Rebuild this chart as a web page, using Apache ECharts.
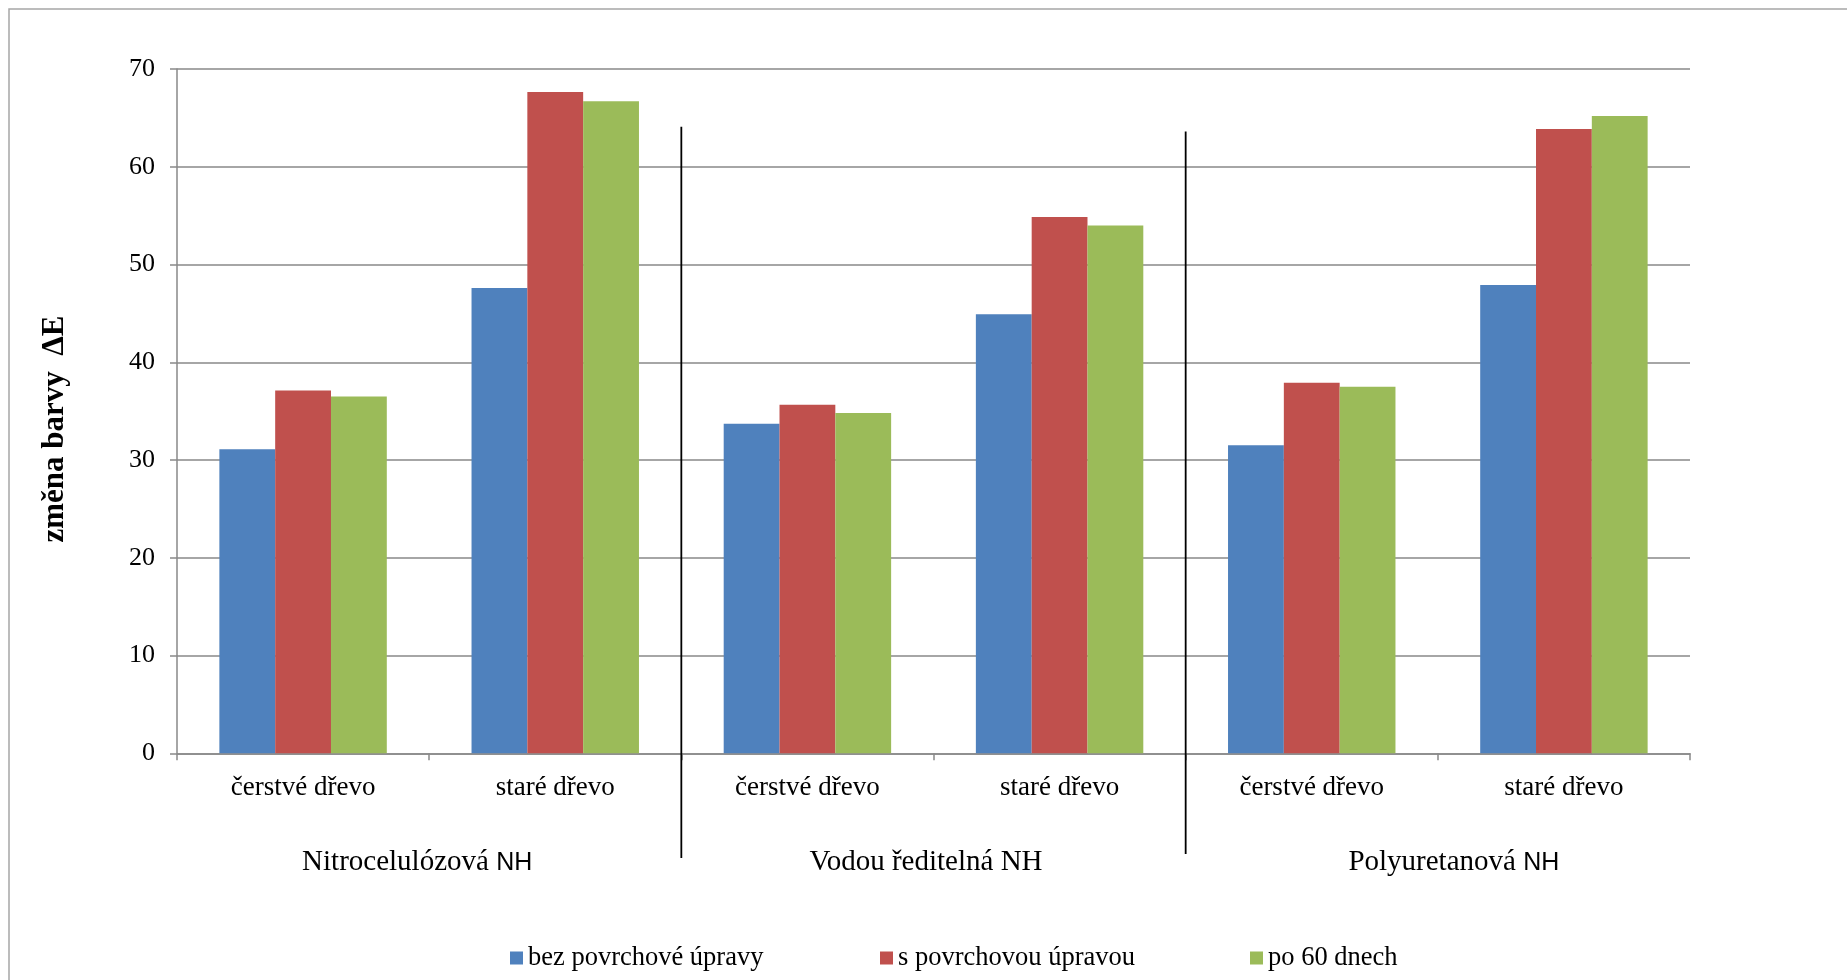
<!DOCTYPE html>
<html>
<head>
<meta charset="utf-8">
<style>
  html, body { margin: 0; padding: 0; background: #ffffff; }
  #chart { width: 1847px; height: 980px; }
</style>
<script src="https://cdn.jsdelivr.net/npm/echarts@6/dist/echarts.min.js"></script>
</head>
<body>
<div id="chart"></div>
<script>
// Coating types (outer groups) and wood types (inner categories)
const groups = ['Nitrocelulózová NH', 'Vodou ředitelná NH', 'Polyuretanová NH'];
const woodTypes = ['čerstvé dřevo', 'staré dřevo'];
const categories = groups.flatMap(() => woodTypes);

// Colour change ΔE per category
const seriesNames = ['bez povrchové úpravy', 's povrchovou úpravou', 'po 60 dnech'];
const bezUpravy = [31.1, 47.6, 33.7, 44.9, 31.5, 47.9];
const sUpravou  = [37.1, 67.65, 35.65, 54.85, 37.9, 63.85];
const po60Dnech = [36.5, 66.7, 34.8, 54.0, 37.5, 65.2];
const seriesValues = [bezUpravy, sUpravou, po60Dnech];

const yTicks = { min: 0, max: 70, interval: 10 };
const yTitle = 'změna barvy  ΔE';

const colors = ['#4F81BD', '#C0504D', '#9BBB59'];
const serif = "'Liberation Serif', 'Times New Roman', serif";
const sans = "'Liberation Sans', Arial, sans-serif";
const gridGray = '#898989';

const chart = echarts.init(document.getElementById('chart'));

// group captions: "NH" is set in a sans face for the first and last one
const groupLabel = (name, idx) => {
  const base = name.replace(/ NH$/, '');
  if (idx === 0) return '{g|' + base + ' }{nh0|NH}';
  if (idx === 1) return '{g1|' + name + '}';
  return '{g2|' + base + ' }{nh|NH}';
};

const groupText = { fontFamily: serif, fontSize: 29, color: '#000', lineHeight: 34 };
const nhText = { fontFamily: sans, fontSize: 25, color: '#000', lineHeight: 34 };

chart.setOption({
  animation: false,
  backgroundColor: '#ffffff',
  grid: { left: 177, right: 157, top: 69, height: 684.3, containLabel: false },
  legend: {
    data: seriesNames,
    left: 505,
    top: 938,
    orient: 'horizontal',
    icon: 'rect',
    itemWidth: 13,
    itemHeight: 13,
    itemGap: 0,
    textStyle: { fontFamily: serif, fontSize: 26.5, color: '#000', width: 352, lineHeight: 30 }
  },
  xAxis: [
    {
      type: 'category',
      data: categories,
      position: 'bottom',
      axisLine: { show: true, lineStyle: { color: gridGray, width: 1.5 } },
      axisTick: { show: true, length: 7, lineStyle: { color: gridGray, width: 1.5 } },
      axisLabel: { fontFamily: serif, fontSize: 27, color: '#000', margin: 20, lineHeight: 30, interval: 0 },
      splitLine: { show: false }
    },
    {
      type: 'category',
      data: groups,
      position: 'bottom',
      axisLine: { show: false },
      axisTick: { show: false },
      axisLabel: {
        interval: 0,
        margin: 92.5,
        fontFamily: serif,
        fontSize: 29,
        color: '#000',
        lineHeight: 34,
        formatter: (v, i) => groupLabel(v, i),
        rich: {
          g: groupText,
          g1: Object.assign({}, groupText, { padding: [0, 15, 0, 0] }),
          g2: Object.assign({}, groupText, { padding: [0, 0, 0, 32] }),
          nh0: Object.assign({}, nhText, { padding: [0, 24, 0, 0] }),
          nh: nhText
        }
      },
      splitLine: { show: false }
    }
  ],
  yAxis: {
    type: 'value',
    min: yTicks.min,
    max: yTicks.max,
    interval: yTicks.interval,
    name: yTitle,
    nameLocation: 'middle',
    nameRotate: 90,
    nameGap: 107,
    nameTextStyle: { fontFamily: serif, fontSize: 31, fontWeight: 'bold', color: '#000', padding: [0, 36, 0, 0] },
    axisLine: { show: true, lineStyle: { color: gridGray, width: 1.5 } },
    axisTick: { show: true, length: 7, lineStyle: { color: gridGray, width: 1.5 } },
    axisLabel: { fontFamily: serif, fontSize: 26, color: '#000', margin: 22 },
    splitLine: { show: true, lineStyle: { color: gridGray, width: 1.5 } }
  },
  series: seriesNames.map((name, i) => ({
    name,
    type: 'bar',
    xAxisIndex: 0,
    data: seriesValues[i],
    barGap: '0%',
    barCategoryGap: '33.6%',
    itemStyle: { color: colors[i] },
    emphasis: { disabled: true }
  }))
});

// black separators between the coating groups, placed from the axis scales
function drawSeparators() {
  const sep = [
    { after: 1, top: 64.1, bottom: -10.7 },
    { after: 3, top: 63.6, bottom: -10.3 }
  ];
  const elements = sep.map((s) => {
    const x1 = chart.convertToPixel({ xAxisIndex: 0 }, s.after);
    const x2 = chart.convertToPixel({ xAxisIndex: 0 }, s.after + 1);
    const x = (x1 + x2) / 2;
    const yTop = chart.convertToPixel({ yAxisIndex: 0 }, s.top);
    const yBot = chart.convertToPixel({ yAxisIndex: 0 }, s.bottom);
    return {
      type: 'line',
      shape: { x1: x, y1: yTop, x2: x, y2: yBot },
      style: { stroke: '#000', lineWidth: 1.8 },
      z: 10
    };
  });
  // chart area frame
  elements.push({
    type: 'rect',
    shape: { x: 9, y: 9, width: 2000, height: 2000 },
    style: { fill: 'none', stroke: '#a6a6a6', lineWidth: 1.5 },
    z: -1
  });
  chart.setOption({ graphic: elements });
}
drawSeparators();
</script>
</body>
</html>
